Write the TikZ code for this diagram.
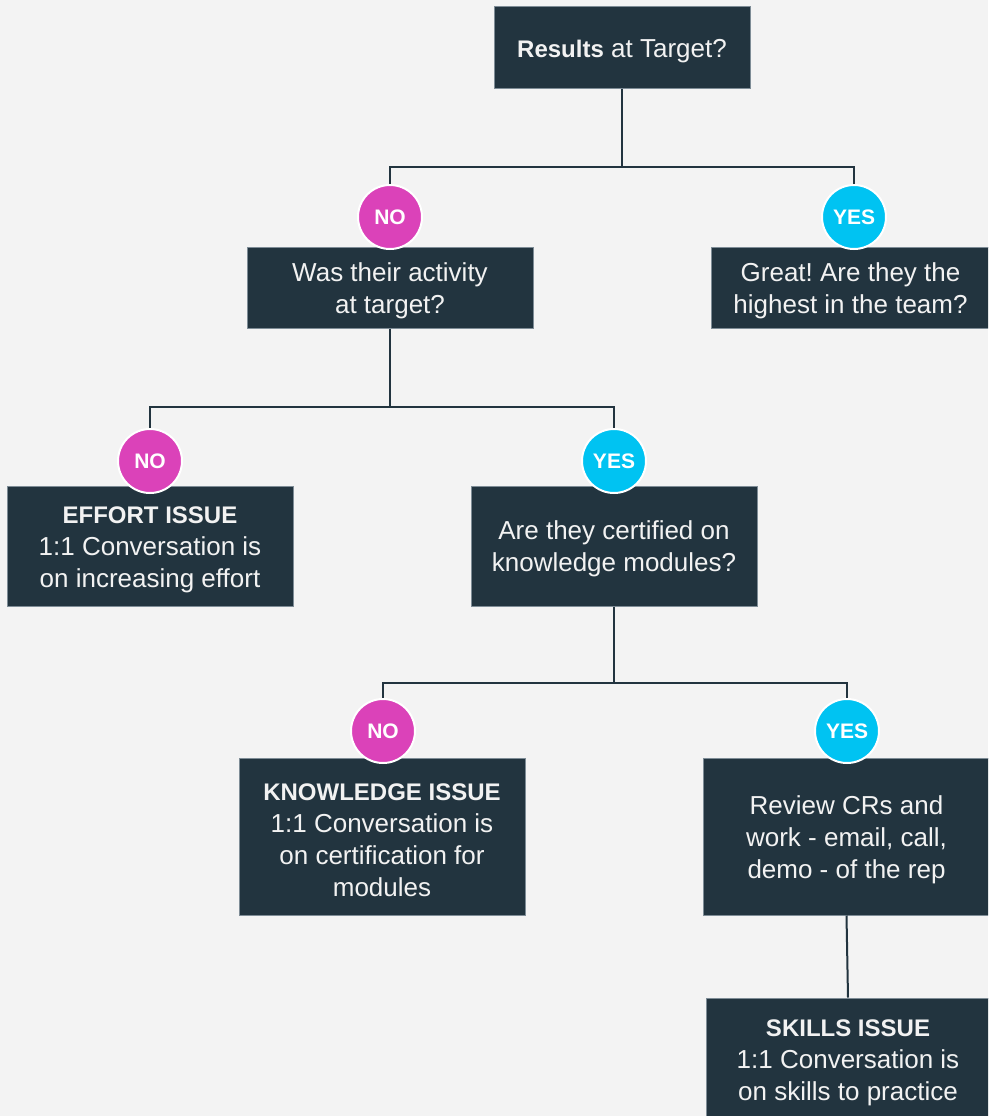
\documentclass[tikz,border=0pt]{standalone}
\usepackage{fontspec}
\setmainfont{Liberation Sans}
\frenchspacing
\newcommand{\toppad}{\rule{0pt}{24.5pt}}
\definecolor{bgc}{HTML}{F3F3F3}
\definecolor{boxc}{HTML}{22343F}
\definecolor{noc}{HTML}{DB42B9}
\definecolor{yesc}{HTML}{00C3F2}
\definecolor{txt}{HTML}{F2F2F2}
\definecolor{edgec}{HTML}{7E8C96}
\begin{document}
\begin{tikzpicture}[x=1pt,y=-1pt,
  box/.style={draw=edgec, line width=1pt, fill=boxc, text=txt, align=center, inner sep=0pt, font=\fontsize{26}{32}\selectfont},
  nocirc/.style={circle, draw=white, line width=2pt, fill=noc, text=white, minimum size=64pt, inner sep=0pt, font=\bfseries\fontsize{21}{24}\selectfont},
  yescirc/.style={nocirc, fill=yesc},
  conn/.style={draw=boxc, line width=2pt}
]
\useasboundingbox (0,0) rectangle (988,1116);
\clip (0,0) rectangle (988,1116);
\fill[bgc] (0,0) rectangle (988,1116);

% boxes
\node[box, minimum width=256pt, minimum height=81pt] (top) at (622,47.5) {\toppad\textbf{\fontsize{24}{32}\selectfont Results} at Target?};
\node[box, minimum width=286pt, minimum height=81pt] (act) at (390,287.5) {\toppad Was their activity\\at target?};
\node[box, minimum width=279pt, minimum height=81pt] (great) at (850.5,287.5) {\toppad Great! Are they the\\highest in the team?};
\node[box, minimum width=286pt, minimum height=120pt] (effort) at (150,546) {\toppad\textbf{\fontsize{24}{32}\selectfont EFFORT ISSUE}\\1:1 Conversation is\\on increasing effort};
\node[box, minimum width=286pt, minimum height=120pt] (cert) at (614,546) {\toppad Are they certified on\\knowledge modules?};
\node[box, minimum width=286pt, minimum height=157pt] (know) at (382,836.5) {\toppad\textbf{\fontsize{24}{32}\selectfont KNOWLEDGE ISSUE}\\1:1 Conversation is\\on certification for\\modules};
\node[box, minimum width=287pt, minimum height=157pt] (review) at (846.5,836.5) {\toppad Review CRs and\\work - email, call,\\demo - of the rep};
\node[box, minimum width=284pt, minimum height=122pt] (skills) at (848,1059) {\toppad\textbf{\fontsize{24}{32}\selectfont SKILLS ISSUE}\\1:1 Conversation is\\on skills to practice};

% junctions
\coordinate (j1) at (622,167);
\coordinate (j2) at (390,407);
\coordinate (j3) at (614,683);

% circles
\node[nocirc] (no1) at (390,217) {NO};
\node[yescirc] (yes1) at (854,217) {YES};
\node[nocirc] (no2) at (150,461) {NO};
\node[yescirc] (yes2) at (614,461) {YES};
\node[nocirc] (no3) at (383,731) {NO};
\node[yescirc] (yes3) at (847,731) {YES};

% connectors
\draw[conn] (top) -- (j1);
\draw[conn] (j1) -| (no1);
\draw[conn] (j1) -| (yes1);
\draw[conn] (act) -- (j2);
\draw[conn] (j2) -| (no2);
\draw[conn] (j2) -| (yes2);
\draw[conn] (cert) -- (j3);
\draw[conn] (j3) -| (no3);
\draw[conn] (j3) -| (yes3);
\draw[conn] (review.south) -- (skills.north);
\end{tikzpicture}
\end{document}
